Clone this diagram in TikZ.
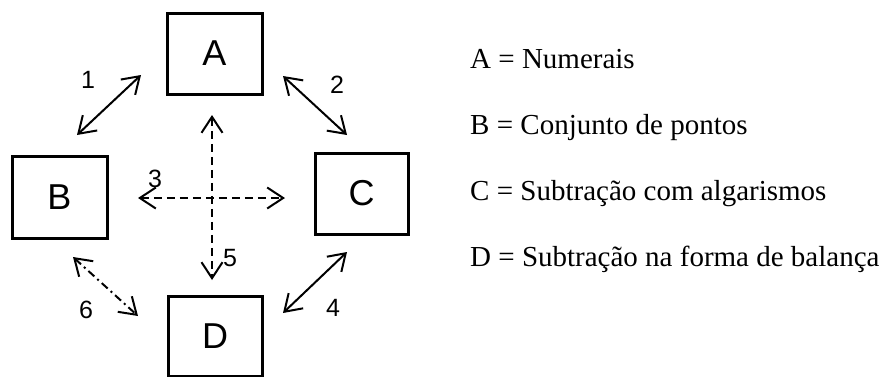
\documentclass[tikz,border=0pt]{standalone}
\usepackage{fontspec}
\setmainfont{Liberation Serif}
\newfontfamily\arialf{Liberation Sans}
\usetikzlibrary{arrows.meta}
\begin{document}
\begin{tikzpicture}[x=1pt,y=-1pt,
  box/.style={draw, line width=3pt, inner sep=0pt, font=\arialf\fontsize{36}{40}\selectfont},
  num/.style={font=\arialf\fontsize{25}{28}\selectfont, inner sep=0pt},
  link/.style={line width=2pt, {Straight Barb[length=16pt,width=21pt]}-{Straight Barb[length=16pt,width=21pt]}},
  dlink/.style={link, dash pattern=on 8pt off 5pt},
  dlinkb/.style={link, dash pattern=on 8pt off 4pt on 2pt off 4pt},
  legend/.style={anchor=base west, inner sep=0pt, font=\fontsize{29}{33}\selectfont}]
\useasboundingbox (0,0) rectangle (885,376);
\fill[white] (0,0) rectangle (885,376);
\node[box, minimum width=95pt, minimum height=81pt] (A) at (214.5,53.5) {A};
\node[box, minimum width=95pt, minimum height=82pt] (B) at (59.5,197) {B};
\node[box, minimum width=93pt, minimum height=81pt] (C) at (361.5,193.5) {C};
\node[box, minimum width=94pt, minimum height=80pt] (D) at (215,336) {D};
% connector end points
\coordinate (a1) at (77,135);  \coordinate (b1) at (141,75);
\coordinate (a2) at (283,76);  \coordinate (b2) at (347,135);
\coordinate (a3) at (138,198); \coordinate (b3) at (285,198);
\coordinate (a5) at (212,115); \coordinate (b5) at (212,280);
\coordinate (a4) at (347,252); \coordinate (b4) at (283,313);
\coordinate (a6) at (73,257);  \coordinate (b6) at (138,316);
\draw[link] (a1) -- (b1);
\draw[link] (a2) -- (b2);
\draw[dlink] (a3) -- (b3);
\draw[dlink] (a5) -- (b5);
\draw[link] (a4) -- (b4);
\draw[dlinkb] (a6) -- (b6);
\node[num] (n1) at (88,80) {1};
\node[num] (n2) at (337,85) {2};
\node[num] (n3) at (155,179) {3};
\node[num] (n4) at (333,308) {4};
\node[num] (n5) at (230,258) {5};
\node[num] (n6) at (86,310) {6};
\node[legend] (lA) at (470,68) {A = Numerais};
\node[legend] (lB) at (470,134) {B = Conjunto de pontos};
\node[legend] (lC) at (470,200) {C = Subtração com algarismos};
\node[legend] (lD) at (470,266) {D = Subtração na forma de balança};
\end{tikzpicture}
\end{document}
